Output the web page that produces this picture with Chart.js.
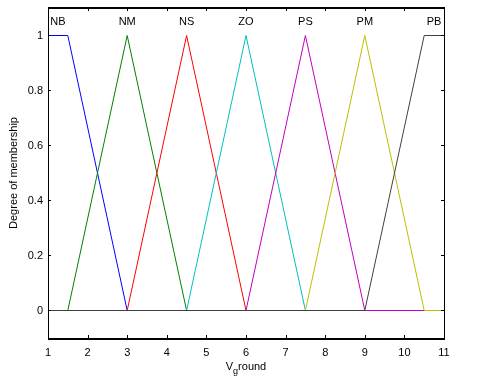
<!DOCTYPE html>
<html><head><meta charset="utf-8">
<script src="https://cdn.jsdelivr.net/npm/chart.js@4.4.1/dist/chart.umd.min.js"></script>
<style>html,body{margin:0;padding:0;background:#fff}#wrap{width:483px;height:390px}</style>
</head><body><div id="wrap"><canvas id="c" width="483" height="390"></canvas></div>
<script>
const mfNames = ['NB','NM','NS','ZO','PS','PM','PB'];
const mfColors = ['#0000ff','#008000','#ff0000','#00bfbf','#bf00bf','#bfbf00','#404040'];
const nbX = [1, 1.5, 3, 11];      const nbY = [1, 1, 0, 0];
const nmX = [1, 1.5, 3, 4.5, 11]; const nmY = [0, 0, 1, 0, 0];
const nsX = [1, 3, 4.5, 6, 11];   const nsY = [0, 0, 1, 0, 0];
const zoX = [1, 4.5, 6, 7.5, 11]; const zoY = [0, 0, 1, 0, 0];
const psX = [1, 6, 7.5, 9, 11];   const psY = [0, 0, 1, 0, 0];
const pmX = [1, 7.5, 9, 10.5, 11];const pmY = [0, 0, 1, 0, 0];
const pbX = [1, 9, 10.5, 11];     const pbY = [0, 0, 1, 1];
const labelX = [1.25, 3, 4.5, 6, 7.5, 9, 10.75];
const labelY = 1.05;
const xTicks = [1,2,3,4,5,6,7,8,9,10,11];
const yTicks = [0,0.2,0.4,0.6,0.8,1];

const seriesX = [nbX,nmX,nsX,zoX,psX,pmX,pbX];
const seriesY = [nbY,nmY,nsY,zoY,psY,pmY,pbY];
const FONT = '"Liberation Sans", Arial, sans-serif';

const datasets = mfNames.map((n,i)=>({
  label:n,
  order: mfNames.length - i,
  data: seriesX[i].map((x,j)=>({x:x,y:seriesY[i][j]})),
  borderColor: mfColors[i], borderWidth:1, pointRadius:0, fill:false, tension:0
}));

const deco = {
  id:'deco',
  afterDatasetsDraw(chart){
    const {ctx, chartArea:a, scales:{x,y}} = chart;
    ctx.save();
    ctx.fillStyle='#000'; ctx.font='11px '+FONT; ctx.textAlign='center'; ctx.textBaseline='middle';
    mfNames.forEach((n,i)=>ctx.fillText(n, x.getPixelForValue(labelX[i]), y.getPixelForValue(labelY)));
    const l=Math.round(a.left), r=Math.round(a.right), t=Math.round(a.top), b=Math.round(a.bottom);
    ctx.fillRect(l, t-1, r-l+1, 2);
    ctx.fillRect(l, b, r-l+1, 2);
    ctx.fillRect(l, t-1, 1, b-t+3);
    ctx.fillRect(r, t-1, 1, b-t+3);
    ctx.strokeStyle='#000'; ctx.lineWidth=1;
    const L=3;
    ctx.beginPath();
    xTicks.forEach(v=>{const px=Math.round(x.getPixelForValue(v))+0.5;
      ctx.moveTo(px,b); ctx.lineTo(px,b-L);
      ctx.moveTo(px,t); ctx.lineTo(px,t+L);});
    yTicks.forEach(v=>{const py=Math.floor(y.getPixelForValue(v))+0.5;
      ctx.moveTo(l,py); ctx.lineTo(l+L,py);
      ctx.moveTo(r,py); ctx.lineTo(r-L,py);});
    ctx.stroke();
    const cx=(a.left+a.right)/2, ty=367;
    ctx.textAlign='left'; ctx.textBaseline='middle';
    ctx.font='11px '+FONT;
    const wV=ctx.measureText('V').width;
    ctx.font='9px '+FONT;
    const wg=ctx.measureText('g').width;
    ctx.font='11px '+FONT;
    const wr=ctx.measureText('round').width;
    let sx=cx-(wV+wg+wr)/2;
    ctx.fillText('V',sx,ty); sx+=wV;
    ctx.font='9px '+FONT; ctx.fillText('g',sx,ty+5); sx+=wg;
    ctx.font='11px '+FONT; ctx.fillText('round',sx,ty);
    ctx.restore();
  }
};

new Chart(document.getElementById('c'),{
  type:'line',
  data:{datasets},
  options:{
    responsive:false, animation:false,
    layout:{padding:{left:0,top:8,right:39,bottom:0}},
    plugins:{legend:{display:false},tooltip:{enabled:false}},
    scales:{
      x:{type:'linear',min:1,max:11,
        afterBuildTicks(s){s.ticks=xTicks.map(v=>({value:v}));},
        afterFit(s){s.height=52; s.paddingLeft=0; s.paddingRight=0;},
        grid:{display:false,drawTicks:false}, border:{display:false},
        ticks:{color:'#000',font:{family:FONT,size:11},padding:8,maxRotation:0,callback:v=>String(v)}},
      y:{type:'linear',min:-0.1,max:1.1,
        afterBuildTicks(s){s.ticks=yTicks.map(v=>({value:v}));},
        afterFit(s){s.width=48; s.paddingTop=0; s.paddingBottom=0;},
        grid:{display:false,drawTicks:false}, border:{display:false},
        title:{display:true,text:'Degree of membership',color:'#000',font:{family:FONT,size:11},padding:{top:7,bottom:0}},
        ticks:{color:'#000',font:{family:FONT,size:11},padding:5,callback:v=>String(+v.toFixed(1))}}
    }
  },
  plugins:[deco]
});
</script></body></html>
